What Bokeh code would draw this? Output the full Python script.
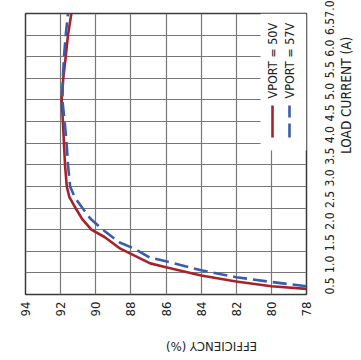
import math
from bokeh.plotting import figure
from bokeh.models import (Range1d, LinearAxis, FixedTicker, Grid, Label,
                          BoxAnnotation, Arrow, PrintfTickFormatter)
from bokeh.embed import file_html
from bokeh.resources import INLINE

# ---- data ----
current_50v = [0.63, 0.69, 0.80, 0.94, 1.13, 1.22, 1.56, 1.83, 2.0, 2.25, 2.5, 2.75, 3.0,
               3.5, 4.0, 4.5, 5.0, 5.5, 6.0, 6.5, 7.0]
eff_50v = [78.0, 80.0, 82.0, 84.0, 86.0, 86.9, 88.6, 89.5, 90.25, 90.78, 91.15, 91.5, 91.65,
           91.75, 91.81, 91.87, 91.94, 91.85, 91.71, 91.58, 91.39]

current_57v = [0.69, 0.79, 0.90, 1.06, 1.27, 1.35, 1.56, 1.71, 2.0, 2.25, 2.5, 2.75, 3.0,
               3.5, 4.0, 4.5, 5.0, 5.5, 6.0, 6.5, 7.0]
eff_57v = [78.0, 80.0, 82.0, 84.0, 86.0, 86.9, 87.8, 88.67, 89.6, 90.3, 90.76, 91.2, 91.46,
           91.58, 91.66, 91.77, 91.9, 91.87, 91.81, 91.71, 91.58]

eff_ticks = [94, 92, 90, 88, 86, 84, 82, 80, 78]
current_ticks = [0.5, 1.0, 1.5, 2.0, 2.5, 3.0, 3.5, 4.0, 4.5, 5.0, 5.5, 6.0, 6.5, 7.0]
series_names = ["VPORT = 50V", "VPORT = 57V"]
x_title = "EFFICIENCY (%)"
y_title = "LOAD CURRENT (A)"

RED = "#a8222b"
BLUE = "#3a5cad"
GRID = "#777777"
FONT = "DejaVu Sans Condensed, Liberation Sans"
TXT = "#222222"
FS = "13px"

# canvas-pixel layout of the plot frame
F_LEFT, F_TOP, F_SIZE = 25, 13, 281
F_BOTTOM = F_TOP + F_SIZE


def sx(px):
    return px - F_LEFT


def sy(py):
    return F_BOTTOM - py


p = figure(frame_width=F_SIZE, frame_height=F_SIZE,
           x_range=Range1d(94, 78), y_range=Range1d(0.5, 7.0),
           x_axis_type=None, y_axis_type=None,
           output_backend="svg", toolbar_location=None,
           min_border_left=F_LEFT, min_border_top=F_TOP,
           min_border_right=0, min_border_bottom=0)
p.outline_line_color = "#3a3a3a"
p.outline_line_width = 1.5
p.background_fill_color = "white"
p.border_fill_color = "white"

xt = FixedTicker(ticks=eff_ticks)
yt = FixedTicker(ticks=current_ticks)

xaxis = LinearAxis(ticker=xt, major_label_orientation=math.pi / 2,
                   axis_line_color=None, major_tick_in=0, major_tick_out=0,
                   minor_tick_in=0, minor_tick_out=0, major_label_standoff=7,
                   major_label_text_font=FONT, major_label_text_font_size=FS,
                   major_label_text_color=TXT,
                   axis_label=x_title, axis_label_orientation=math.pi,
                   axis_label_standoff=27, axis_label_text_font=FONT,
                   axis_label_text_font_size=FS, axis_label_text_font_style="normal",
                   axis_label_text_color=TXT)
p.add_layout(xaxis, "below")

yaxis = LinearAxis(ticker=yt, major_label_orientation=math.pi / 2,
                   formatter=PrintfTickFormatter(format="%.1f"),
                   axis_line_color=None, major_tick_in=0, major_tick_out=0,
                   minor_tick_in=0, minor_tick_out=0, major_label_standoff=23,
                   major_label_text_font=FONT, major_label_text_font_size="12px",
                   major_label_text_color=TXT,
                   axis_label=y_title, axis_label_orientation=math.pi / 2,
                   axis_label_standoff=4, axis_label_text_font=FONT,
                   axis_label_text_font_size="13.5px", axis_label_text_font_style="normal",
                   axis_label_text_color=TXT)
p.add_layout(yaxis, "right")

p.add_layout(Grid(dimension=0, ticker=xt, grid_line_color=GRID, grid_line_width=1.2))
p.add_layout(Grid(dimension=1, ticker=yt, grid_line_color=GRID, grid_line_width=1.2))

p.line(eff_50v, current_50v, line_color=RED, line_width=2.6)
p.line(eff_57v, current_57v, line_color=BLUE, line_width=2.6, line_dash="14 6")

# legend (rotated, drawn by hand)
p.add_layout(BoxAnnotation(left=sx(260), right=sx(306), top=sy(13), bottom=sy(150),
                           left_units="screen", right_units="screen",
                           top_units="screen", bottom_units="screen",
                           fill_color="white", fill_alpha=1.0, line_color=None))
p.add_layout(Arrow(end=None, x_start=sx(272), y_start=sy(137), x_end=sx(272), y_end=sy(105),
                   start_units="screen", end_units="screen",
                   line_color=RED, line_width=2.6))
p.add_layout(Arrow(end=None, x_start=sx(289), y_start=sy(137), x_end=sx(289), y_end=sy(105),
                   start_units="screen", end_units="screen",
                   line_color=BLUE, line_width=2.6, line_dash="14 6"))
for i, xpos in enumerate([272, 289]):
    p.add_layout(Label(x=sx(xpos), y=sy(98), x_units="screen", y_units="screen",
                       text=series_names[i], angle=math.pi / 2,
                       text_align="left", text_baseline="middle",
                       text_font=FONT, text_font_size="12.5px", text_color=TXT))

open("out.html", "w").write(file_html(p, INLINE))
